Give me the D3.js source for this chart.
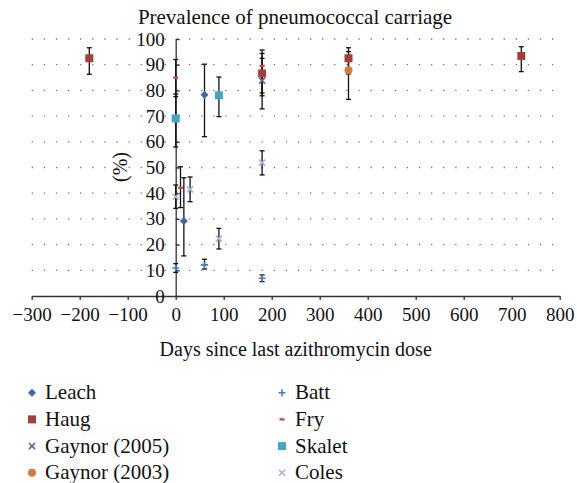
<!DOCTYPE html>
<html>
<head>
<meta charset="utf-8">
<script src="https://cdn.jsdelivr.net/npm/d3@7"></script>
<style>
  body { margin: 0; background: #fff; }
  svg text { fill: #111; }
  .axis path, .axis line { stroke: #333; stroke-width: 1.3; }
</style>
</head>
<body>
<div id="chart"></div>
<script>
// Each point: [day, value, lower, upper]
const leach = [[17, 29.2, 15.6, 46], [60, 78.3, 62, 90.2]];
const haug = [[-180, 92.5, 86.3, 96.6], [180, 86.6, 79, 94.4], [360, 92.5, 86.4, 96.6], [720, 93.4, 87.3, 97]];
const gaynor2005 = [[180, 83.8, 72.8, 92.5]];
const gaynor2003 = [[360, 87.8, 76.5, 95.1]];
const batt = [[0, 10.9, 9.2, 12.6], [60, 12.1, 10.5, 14.3], [180, 6.9, 5.6, 8.2]];
const fry = [[0, 85, 77.6, 92], [10, 42.1, 34.4, 50.3], [180, 89.5, 77.9, 95.7]];
const skalet = [[0, 69.1, 58, 78.6], [90, 78.1, 69.8, 85.2]];
const coles = [[0, 38.6, 34.1, 43.2], [30, 41.5, 36.7, 46.3], [90, 22.3, 18.3, 26.3], [180, 51.9, 47.1, 56.5]];

const seriesNames = ["Leach", "Haug", "Gaynor (2005)", "Gaynor (2003)", "Batt", "Fry", "Skalet", "Coles"];
const seriesData = [leach, haug, gaynor2005, gaynor2003, batt, fry, skalet, coles];
const seriesColors = ["#41699f", "#a23e3b", "#7a5c98", "#d27c36", "#4a7cc0", "#c0504d", "#45a6c4", "#9fb4da"];
const seriesShapes = ["diamond", "square", "x", "circle", "plus", "dash", "square", "x"];

const xTicks = [-300, -200, -100, 0, 100, 200, 300, 400, 500, 600, 700, 800];
const yTicks = [0, 10, 20, 30, 40, 50, 60, 70, 80, 90, 100];

const FONT = "Liberation Serif";

const width = 577, height = 483;
const svg = d3.select("#chart").append("svg")
    .attr("width", width)
    .attr("height", height);

const x = d3.scaleLinear().domain([-300, 800]).range([31.7, 559.7]);
const y = d3.scaleLinear().domain([0, 100]).range([296, 39]);

// dotted grid
svg.append("g")
    .selectAll("line")
    .data(yTicks.filter(d => d > 0))
    .join("line")
    .attr("x1", x(-300))
    .attr("x2", x(800))
    .attr("y1", d => y(d))
    .attr("y2", d => y(d))
    .attr("stroke", "#777")
    .attr("stroke-width", 1.3)
    .attr("stroke-dasharray", "1.3,10.8");

// title
svg.append("text")
    .attr("x", 295)
    .attr("y", 23.5)
    .attr("text-anchor", "middle")
    .attr("font-family", FONT)
    .attr("font-size", 21)
    .text("Prevalence of pneumococcal carriage");

// x axis
svg.append("g")
    .attr("class", "axis")
    .attr("transform", `translate(0,${y(0)})`)
    .call(d3.axisBottom(x).tickValues(xTicks).tickSizeInner(4).tickSizeOuter(0).tickPadding(8)
        .tickFormat(d => d < 0 ? "\u2212" + Math.abs(d) : d))
    .attr("font-family", FONT)
    .attr("font-size", 19);

// y axis at day 0
svg.append("g")
    .attr("class", "axis")
    .attr("transform", `translate(${x(0)},0)`)
    .call(d3.axisLeft(y).tickValues(yTicks).tickSizeInner(-4).tickSizeOuter(0).tickPadding(11))
    .attr("font-family", FONT)
    .attr("font-size", 19);

// axis titles
svg.append("text")
    .attr("x", 295.7)
    .attr("y", 356)
    .attr("text-anchor", "middle")
    .attr("font-family", FONT)
    .attr("font-size", 20)
    .text("Days since last azithromycin dose");

svg.append("text")
    .attr("transform", "translate(127,167) rotate(-90)")
    .attr("text-anchor", "middle")
    .attr("font-family", FONT)
    .attr("font-size", 20)
    .text("(%)");

// marker drawing
function drawMarker(g, shape, color) {
    if (shape === "diamond") {
        g.append("path").attr("d", "M0,-4L4,0L0,4L-4,0Z").attr("fill", color);
    } else if (shape === "square") {
        g.append("rect").attr("x", -4).attr("y", -4).attr("width", 8).attr("height", 8).attr("fill", color);
    } else if (shape === "circle") {
        g.append("circle").attr("r", 4).attr("fill", color);
    } else if (shape === "x") {
        g.append("path").attr("d", "M-3,-3L3,3M-3,3L3,-3").attr("stroke", color).attr("stroke-width", 1.6);
    } else if (shape === "plus") {
        g.append("path").attr("d", "M-3.5,0L3.5,0M0,-3.5L0,3.5").attr("stroke", color).attr("stroke-width", 1.6);
    } else if (shape === "dash") {
        g.append("rect").attr("x", -2.5).attr("y", -1.2).attr("width", 5).attr("height", 2.4).attr("fill", color);
    }
}

// error bars first
const bars = svg.append("g");
seriesData.forEach(pts => {
    pts.forEach(p => {
        const cx = x(p[0]);
        bars.append("line")
            .attr("x1", cx).attr("x2", cx)
            .attr("y1", y(p[2])).attr("y2", y(p[3]))
            .attr("stroke", "#111").attr("stroke-width", 1.3);
        [p[2], p[3]].forEach(v => {
            bars.append("line")
                .attr("x1", cx - 2.5).attr("x2", cx + 2.5)
                .attr("y1", y(v)).attr("y2", y(v))
                .attr("stroke", "#111").attr("stroke-width", 1.3);
        });
    });
});

// markers
const marks = svg.append("g");
seriesData.forEach((pts, i) => {
    pts.forEach(p => {
        const g = marks.append("g").attr("transform", `translate(${x(p[0])},${y(p[1])})`);
        drawMarker(g, seriesShapes[i], seriesColors[i]);
    });
});

// legend, two columns
const legend = svg.append("g");
seriesNames.forEach((name, i) => {
    const col = Math.floor(i / 4), row = i % 4;
    const lx = col === 0 ? 32 : 282;
    const ly = 392.7 + row * 26.7;
    const g = legend.append("g").attr("transform", `translate(${lx},${ly})`);
    drawMarker(g, seriesShapes[i], seriesColors[i]);
    g.append("text")
        .attr("x", 13)
        .attr("y", 6.5)
        .attr("font-family", FONT)
        .attr("font-size", 21)
        .text(name);
});
</script>
</body>
</html>
